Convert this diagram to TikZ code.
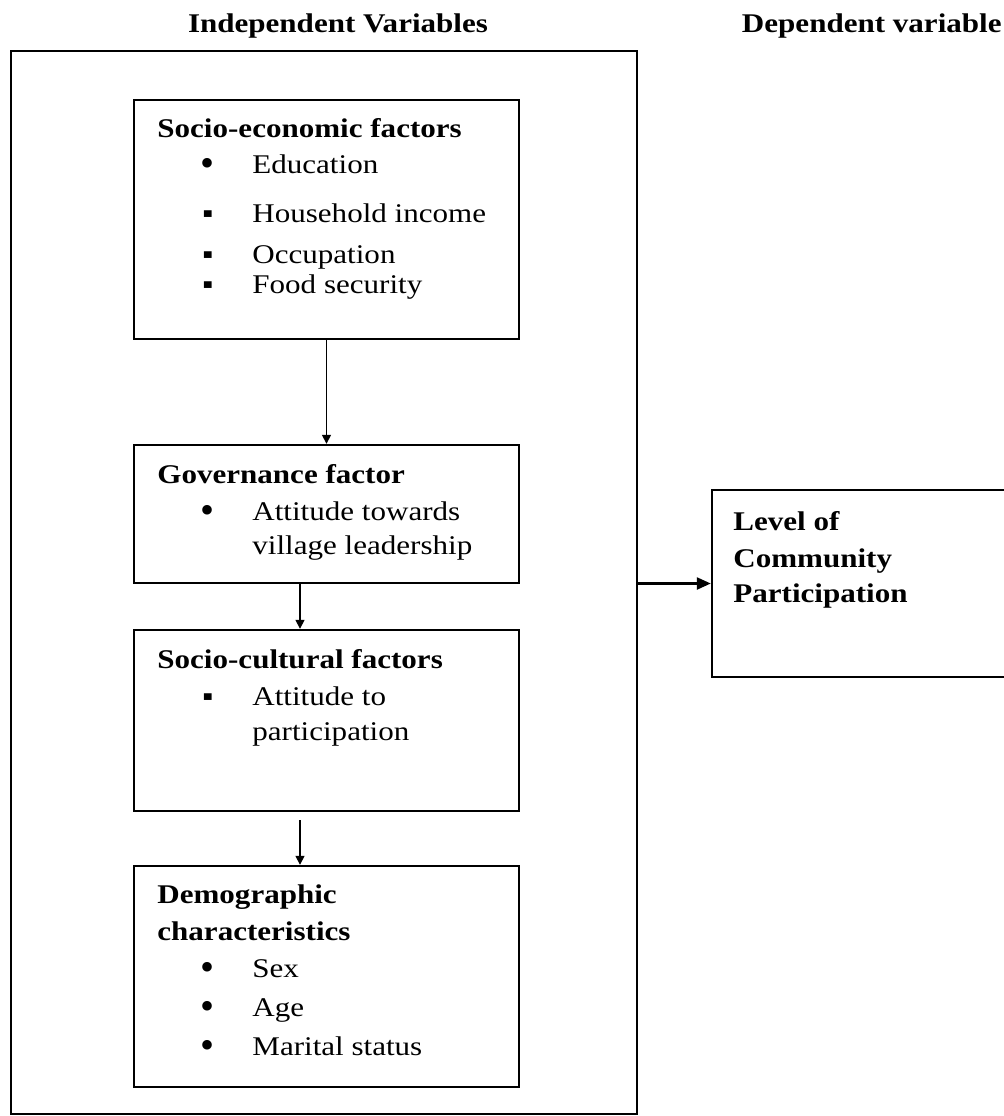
\documentclass[tikz,border=0pt]{standalone}
\usepackage{fontspec}
\setmainfont{Liberation Serif}[FakeStretch=1.15]
\newfontfamily\bulletfont{Liberation Serif}
\usetikzlibrary{fit,arrows.meta}
\newcommand\boxfont{\fontsize{13.5pt}{16pt}\selectfont}

\begin{document}
\begin{tikzpicture}[x=0.5pt,y=-0.5pt]
    \tikzset{%
      frame/.style={draw, line width=1.2pt, inner sep=0pt},
      head/.style={anchor=base west, inner sep=0pt, font=\boxfont\bfseries},
      txt/.style={anchor=base west, inner sep=0pt, font=\boxfont},
      bul/.style={anchor=base, inner sep=0pt, font=\boxfont},
      rbul/.style={anchor=base, inner sep=0pt, yshift=-1.6pt,
        font=\bulletfont\fontsize{20pt}{20pt}\selectfont},
      link/.style={line width=0.8pt, -{Triangle[length=4.5pt,width=4.5pt]}},
    }
    \useasboundingbox (0,0) rectangle (1004,1116);
    \node[head, anchor=base] (indep) at (338,32) {Independent Variables};
    \node[head, anchor=base east] (depv) at (1002,32) {Dependent variable};
    \node[frame, fit={(11,51) (637,1114)}] (outer) {};

    % socio-economic
    \node[frame, fit={(134,100) (519,339)}] (soc) {};
    \node[head] (socT) at (157,137) {Socio-economic factors};
    \node[rbul] (socB1) at (208,173) {•};
    \node[txt] (soc1) at (252,173) {Education};
    \node[bul] (socB2) at (208,222) {▪};
    \node[txt] (soc2) at (252,222) {Household income};
    \node[bul] (socB3) at (208,263) {▪};
    \node[txt] (soc3) at (252,263) {Occupation};
    \node[bul] (socB4) at (208,293) {▪};
    \node[txt] (soc4) at (252,293) {Food security};

    % governance
    \node[frame, fit={(134,445) (519,583)}] (gov) {};
    \node[head] (govT) at (157,483) {Governance factor};
    \node[rbul] (govB1) at (208,520) {•};
    \node[txt] (gov1) at (252,520) {Attitude towards};
    \node[txt] (gov2) at (252,554) {village leadership};

    % socio-cultural
    \node[frame, fit={(134,630) (519,811)}] (cul) {};
    \node[head] (culT) at (157,668) {Socio-cultural factors};
    \node[bul] (culB1) at (208,705) {▪};
    \node[txt] (cul1) at (252,705) {Attitude to};
    \node[txt] (cul2) at (252,740) {participation};

    % demographic
    \node[frame, fit={(134,866) (519,1087)}] (dem) {};
    \node[head] (demT) at (157,903) {Demographic};
    \node[head] (demT2) at (157,940) {characteristics};
    \node[rbul] (demB1) at (208,977) {•};
    \node[txt] (dem1) at (252,977) {Sex};
    \node[rbul] (demB2) at (208,1016) {•};
    \node[txt] (dem2) at (252,1016) {Age};
    \node[rbul] (demB3) at (208,1055) {•};
    \node[txt] (dem3) at (252,1055) {Marital status};

    % dependent
    \node[frame, fit={(712,490) (1012,677)}] (part) {};
    \node[head] (partT1) at (733,530) {Level of};
    \node[head] (partT2) at (733,567) {Community};
    \node[head] (partT3) at (733,602) {Participation};

    \draw [link] (soc) -- (gov);
    \draw [link] ([xshift=-13.25pt]gov.south) -- ([xshift=-13.25pt]cul.north);
    \draw [link] ([xshift=-13.25pt,yshift=-4pt]cul.south) -- ([xshift=-13.25pt]dem.north);
    \draw [line width=1.2pt, -{Triangle[length=7pt,width=6pt]}] (outer.east |- part.west) -- (part.west);
\end{tikzpicture}
\end{document}
